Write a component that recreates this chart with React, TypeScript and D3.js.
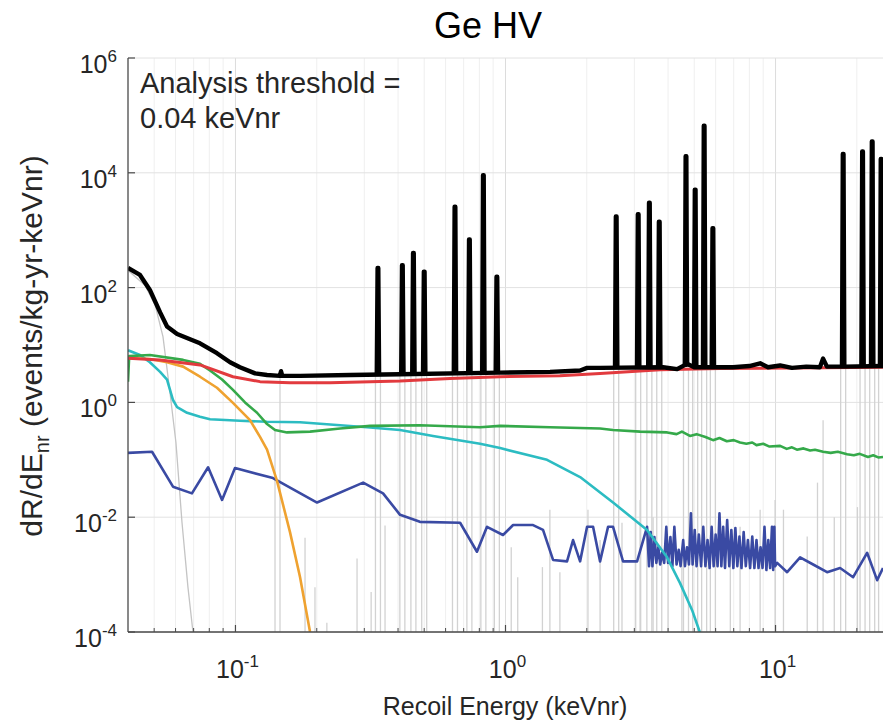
import React from "react";
import * as d3 from "d3";

type P = [number, number];

const titleText = "Ge HV";
const xLabel = "Recoil Energy (keVnr)";
const annotation = ["Analysis threshold =", "0.04 keVnr"];
const xTickValues = [0.1, 1, 10];
const xTickExps = ["-1", "0", "1"];
const yTickValues = [1e-4, 1e-2, 1, 1e2, 1e4, 1e6];
const yTickExps = ["-4", "-2", "0", "2", "4", "6"];

const blackBase: P[] = [
  [0.04, 220], [0.0443, 166], [0.0482, 91], [0.0526, 37], [0.0558, 21], [0.0608, 15.5],
  [0.0679, 12.6], [0.0739, 10.7], [0.0854, 7.2], [0.0955, 5.0], [0.1039, 4.1], [0.1182, 3.2],
  [0.1309, 3.0], [0.146, 2.9], [0.1475, 3.5], [0.149, 2.9], [0.1734, 2.9], [0.266, 3.0],
  [0.407, 3.1], [0.955, 3.3], [1.462, 3.4], [1.889, 3.6], [2.005, 4.0], [2.24, 4.0],
  [3.83, 4.1], [4.32, 3.8], [4.7, 4.7], [5.0, 4.1], [6.96, 4.1], [8.0, 4.3], [8.77, 4.8],
  [9.38, 4.1], [10.4, 4.4], [11.5, 4.0], [13, 4.2], [14.6, 4.1], [15.0, 5.8], [15.5, 4.2],
  [18, 4.2], [25, 4.3],
];

// [energy, peak, base]
const blackSpikes: [number, number, number][] = [
  [0.337, 220, 3.0], [0.415, 245, 3.0], [0.456, 400, 3.0], [0.5, 190, 3.1],
  [0.65, 2570, 3.1], [0.735, 690, 3.2], [0.828, 9100, 3.2], [0.929, 155, 3.3],
  [2.57, 1740, 4.0], [3.1, 1900, 4.0], [3.41, 3000, 4.0], [3.71, 1400, 4.0],
  [4.66, 19500, 4.2], [5.04, 5100, 4.2], [5.44, 66000, 4.1], [5.86, 1080, 4.1],
  [17.8, 21300, 4.2], [21.0, 23600, 4.2], [22.8, 35000, 4.2], [24.6, 17400, 4.2],
];

const redSeries: P[] = [
  [0.04, 5.9], [0.0526, 5.5], [0.0739, 4.5], [0.0979, 2.8], [0.1233, 2.3], [0.1592, 2.2],
  [0.224, 2.2], [0.407, 2.35], [0.623, 2.6], [0.955, 2.8], [1.59, 2.9], [2.24, 3.2],
  [3.74, 3.7], [6.23, 3.9], [25, 4.1],
];

const greenSeries: P[] = [
  [0.04, 2.3], [0.0404, 6.4], [0.0482, 6.7], [0.064, 5.5], [0.0739, 4.7], [0.0805, 3.6],
  [0.0892, 2.5], [0.0979, 1.65], [0.1085, 1.0], [0.1202, 0.66], [0.1309, 0.42],
  [0.1401, 0.33], [0.1552, 0.3], [0.1889, 0.31], [0.244, 0.35], [0.315, 0.39],
  [0.482, 0.4], [0.805, 0.37], [0.955, 0.39], [1.462, 0.37], [2.24, 0.35], [2.5, 0.33],
  [3.15, 0.31], [3.97, 0.3], [4.3, 0.28], [4.5, 0.31], [4.82, 0.26], [5.1, 0.28],
  [5.5, 0.25], [5.87, 0.22], [6.2, 0.24], [6.6, 0.21], [7.0, 0.22], [7.39, 0.2],
  [7.8, 0.19], [8.2, 0.2], [8.5, 0.18], [9.0, 0.19], [9.5, 0.17], [10.4, 0.175],
  [11, 0.155], [11.5, 0.165], [12, 0.15], [12.7, 0.158], [13.43, 0.145], [14, 0.15],
  [15, 0.138], [16, 0.132], [17, 0.138], [18.41, 0.125], [19.5, 0.12], [20.5, 0.127],
  [22, 0.112], [23, 0.12], [24, 0.11], [25, 0.112],
];

const cyanSeries: P[] = [
  [0.04, 8.1], [0.0443, 6.7], [0.0482, 5.0], [0.0526, 3.4], [0.0558, 2.5], [0.0587, 1.1],
  [0.0608, 0.83], [0.0662, 0.66], [0.0739, 0.56], [0.0805, 0.51], [0.1039, 0.48],
  [0.1309, 0.46], [0.1734, 0.45], [0.307, 0.37], [0.407, 0.33], [0.539, 0.26],
  [0.805, 0.19], [0.955, 0.16], [1.425, 0.1], [1.889, 0.05], [2.502, 0.018],
  [3.344, 0.006], [3.966, 0.002], [4.43, 7.1e-4], [4.91, 2.4e-4], [5.26, 9.5e-5],
];

const orangeSeries: P[] = [
  [0.04, 5.9], [0.0482, 5.7], [0.0558, 5.0], [0.064, 4.2], [0.0739, 2.8], [0.0854, 1.8],
  [0.0979, 0.98], [0.1132, 0.49], [0.1233, 0.25], [0.1309, 0.15], [0.1425, 0.043],
  [0.1592, 0.0055], [0.1734, 9.1e-4], [0.1889, 1.0e-4],
];

const navySeries: P[] = [
  [0.04, 0.132], [0.0491, 0.138], [0.0587, 0.034], [0.069, 0.026], [0.0792, 0.074],
  [0.0892, 0.02], [0.0996, 0.072], [0.1377, 0.048], [0.2005, 0.018], [0.297, 0.04],
  [0.352, 0.026], [0.407, 0.011], [0.482, 0.0083], [0.679, 0.008], [0.784, 0.0025],
  [0.854, 0.0068], [0.979, 0.0049], [1.067, 0.0073], [1.265, 0.0073], [1.377, 0.006],
  [1.5, 0.0018], [1.69, 0.0017], [1.779, 0.004], [1.889, 0.0017], [2.005, 0.0068],
  [2.11, 0.0068], [2.24, 0.0017], [2.398, 0.0068], [2.502, 0.0068], [2.725, 0.0017],
  [3.071, 0.0017], [3.344, 0.0068], [3.4, 0.0014], [3.45, 0.0055], [3.5, 0.0014],
  [3.56, 0.0045], [3.62, 0.0016], [3.68, 0.003], [3.74, 0.0015], [3.8, 0.0024],
  [3.87, 0.0016], [3.94, 0.0068], [4.0, 0.0016], [4.08, 0.0045], [4.15, 0.0014],
  [4.22, 0.0068], [4.3, 0.0015], [4.38, 0.0027], [4.45, 0.0014], [4.55, 0.004],
  [4.62, 0.0014], [4.7, 0.003], [4.78, 0.0015], [4.86, 0.0117], [4.93, 0.0015],
  [5.02, 0.006], [5.1, 0.0014], [5.2, 0.005], [5.3, 0.0014], [5.4, 0.0068], [5.5, 0.0014],
  [5.6, 0.004], [5.7, 0.0013], [5.8, 0.0068], [5.9, 0.0014], [6.0, 0.005], [6.1, 0.0014],
  [6.2, 0.0117], [6.3, 0.0014], [6.4, 0.0068], [6.5, 0.0013], [6.62, 0.0089],
  [6.74, 0.0014], [6.86, 0.006], [6.98, 0.0013], [7.1, 0.0065], [7.22, 0.0014],
  [7.35, 0.0046], [7.48, 0.0013], [7.62, 0.0055], [7.76, 0.0014], [7.9, 0.004],
  [8.05, 0.0013], [8.2, 0.0046], [8.35, 0.0013], [8.5, 0.004], [8.65, 0.0013],
  [8.8, 0.003], [8.95, 0.0013], [9.1, 0.0068], [9.25, 0.0012], [9.4, 0.004],
  [9.55, 0.0013], [9.7, 0.0068], [9.8, 0.0012], [9.9, 0.0068], [9.96, 0.0014],
  [10.14, 0.0016], [11.04, 0.0011], [12.33, 0.002], [13.78, 0.0015], [15.52, 0.0011],
  [17.34, 0.0013], [19.38, 0.0009], [21.83, 0.0024], [23.78, 0.0008], [25, 0.0013],
];

const grayCurve: P[] = [
  [0.04, 200], [0.0462, 110], [0.0504, 50], [0.0539, 14], [0.0572, 1.5], [0.0602, 0.2],
  [0.0634, 0.008], [0.0667, 6e-4], [0.0696, 1e-4],
];

// [energy, top of line]
const graySticks: P[] = [
  [0.1401, 0.35], [0.1462, 2.9], [0.181, 0.0044], [0.197, 6e-4], [0.218, 1.45e-4],
  [0.282, 0.0019], [0.318, 5e-4], [0.358, 0.0072],
  [0.337, 3], [0.415, 3], [0.456, 3], [0.5, 3], [0.65, 3], [0.735, 3], [0.828, 3],
  [0.929, 3.2], [2.57, 3.8], [3.1, 4], [3.41, 4], [3.71, 4], [4.66, 4], [5.04, 4],
  [5.44, 4], [5.86, 4], [17.8, 4], [21.0, 4], [22.8, 4], [24.6, 4],
  [1.05, 0.003], [1.11, 9e-4], [1.37, 0.00135], [1.46, 0.0135], [1.59, 0.0011],
  [2.02, 0.0135], [2.24, 0.004], [2.7, 0.008], [3.15, 0.02], [3.52, 0.01], [4.0, 0.003],
  [4.5, 0.0025], [6.8, 0.004], [7.39, 0.0068], [8.77, 0.0135], [9.96, 0.02],
  [10.7, 0.0135], [13.1, 0.0046], [14.3, 0.04], [15.0, 0.49], [16.5, 0.01], [20.1, 0.015],
];

const W = 885;
const H = 727;
const left = 128;
const right = 883;
const top = 58;
const bottom = 632;

const FONT = "'Liberation Sans', Arial, Helvetica, sans-serif";

export default function App() {
  const x = d3.scaleLog().domain([0.04, 25]).range([left, right]);
  const y = d3.scaleLog().domain([1e-4, 1e6]).range([bottom, top]);
  const line = d3
    .line<P>()
    .x((d) => x(d[0]))
    .y((d) => y(d[1]));

  const minorX: number[] = [];
  for (let e = -2; e <= 1; e++) {
    for (let m = 2; m <= 9; m++) {
      const v = m * Math.pow(10, e);
      if (v > 0.04 && v < 25) minorX.push(v);
    }
  }

  const spikePath = (s: [number, number, number]) =>
    line([
      [s[0] * 0.99, s[2]],
      [s[0] * 0.997, s[1]],
      [s[0] * 1.003, s[1]],
      [s[0] * 1.01, s[2]],
    ]) as string;

  const axisColor = "#4a4a4a";
  const textColor = "#262626";

  return (
    <svg width={W} height={H} style={{ display: "block", position: "absolute", left: 0, top: 0 }}>
      <rect x={0} y={0} width={W} height={H} fill="#ffffff" />
      <defs>
        <clipPath id="plotClip">
          <rect x={left} y={top} width={right - left} height={bottom - top} />
        </clipPath>
      </defs>

      {/* grid */}
      <g>
        {minorX.map((v, i) => (
          <line key={"mx" + i} x1={x(v)} x2={x(v)} y1={top} y2={bottom} stroke="#efefef" strokeWidth={1} />
        ))}
        {xTickValues.map((v, i) => (
          <line key={"gx" + i} x1={x(v)} x2={x(v)} y1={top} y2={bottom} stroke="#dcdcdc" strokeWidth={1} />
        ))}
        {yTickValues.map((v, i) => (
          <line key={"gy" + i} x1={left} x2={right} y1={y(v)} y2={y(v)} stroke="#e2e2e2" strokeWidth={1} />
        ))}
      </g>

      <g clipPath="url(#plotClip)">
        {graySticks.map((s, i) => {
          const isSpikeStick = s[1] >= 2.5 && s[0] > 0.3;
          if (isSpikeStick) {
            return (
              <g key={"gs" + i}>
                <line x1={x(s[0]) - 2.5} x2={x(s[0]) - 2.5} y1={bottom} y2={y(s[1])} stroke="#d2d2d2" strokeWidth={1.3} />
                <line x1={x(s[0]) + 2.5} x2={x(s[0]) + 2.5} y1={bottom} y2={y(s[1])} stroke="#d2d2d2" strokeWidth={1.3} />
              </g>
            );
          }
          return (
            <line key={"gs" + i} x1={x(s[0])} x2={x(s[0])} y1={bottom} y2={y(s[1])} stroke="#d2d2d2" strokeWidth={1.3} />
          );
        })}
        <path d={line(grayCurve) as string} fill="none" stroke="#c4c4c4" strokeWidth={1.3} />
        <path d={line(navySeries) as string} fill="none" stroke="#3a4aa3" strokeWidth={2.6} strokeLinejoin="round" />
        <path d={line(cyanSeries) as string} fill="none" stroke="#2cbcc2" strokeWidth={2.6} strokeLinejoin="round" />
        <path d={line(orangeSeries) as string} fill="none" stroke="#efa230" strokeWidth={2.6} strokeLinejoin="round" />
        <path d={line(greenSeries) as string} fill="none" stroke="#35a94a" strokeWidth={2.6} strokeLinejoin="round" />
        <path d={line(redSeries) as string} fill="none" stroke="#e23a3e" strokeWidth={3} strokeLinejoin="round" />
        <path d={line(blackBase) as string} fill="none" stroke="#000000" strokeWidth={4.4} strokeLinejoin="round" />
        {blackSpikes.map((s, i) => (
          <path key={"sp" + i} d={spikePath(s)} fill="#000000" stroke="#000000" strokeWidth={4.4} strokeLinejoin="round" />
        ))}
      </g>

      {/* axes */}
      <line x1={left} x2={left} y1={top} y2={bottom} stroke={axisColor} strokeWidth={1.3} />
      <line x1={left} x2={right} y1={bottom} y2={bottom} stroke={axisColor} strokeWidth={1.3} />
      {minorX.map((v, i) => (
        <line key={"mt" + i} x1={x(v)} x2={x(v)} y1={bottom} y2={bottom - 4} stroke={axisColor} strokeWidth={1} />
      ))}
      {xTickValues.map((v, i) => (
        <line key={"xt" + i} x1={x(v)} x2={x(v)} y1={bottom} y2={bottom - 7} stroke={axisColor} strokeWidth={1.2} />
      ))}
      {yTickValues.map((v, i) => (
        <line key={"yt" + i} x1={left} x2={left + 7} y1={y(v)} y2={y(v)} stroke={axisColor} strokeWidth={1.2} />
      ))}

      {/* tick labels */}
      {yTickValues.map((v, i) => (
        <text key={"yl" + i} x={left - 11} y={y(v) + 15} textAnchor="end" fontFamily={FONT} fontSize={25} fill={textColor}>
          <tspan>10</tspan>
          <tspan dy={-11} fontSize={17}>{yTickExps[i]}</tspan>
        </text>
      ))}
      {xTickValues.map((v, i) => (
        <text key={"xl" + i} x={x(v) + 2} y={bottom + 46} textAnchor="middle" fontFamily={FONT} fontSize={25} fill={textColor}>
          <tspan>10</tspan>
          <tspan dy={-11} fontSize={17}>{xTickExps[i]}</tspan>
        </text>
      ))}

      {/* labels */}
      <text x={505} y={715} textAnchor="middle" fontFamily={FONT} fontSize={25} fill={textColor}>
        {xLabel}
      </text>
      <text
        transform={`translate(42, 346) rotate(-90)`}
        textAnchor="middle"
        fontFamily={FONT}
        fontSize={30}
        fill={textColor}
      >
        <tspan>dR/dE</tspan>
        <tspan dy={7} fontSize={20}>nr</tspan>
        <tspan dy={-7}> (events/kg-yr-keVnr)</tspan>
      </text>
      <text x={488} y={38} textAnchor="middle" fontFamily={FONT} fontSize={36} fill="#000000">
        {titleText}
      </text>
      <text x={140} y={93} fontFamily={FONT} fontSize={29} fill={textColor}>
        {annotation[0]}
      </text>
      <text x={140} y={128} fontFamily={FONT} fontSize={29} fill={textColor}>
        {annotation[1]}
      </text>
    </svg>
  );
}
